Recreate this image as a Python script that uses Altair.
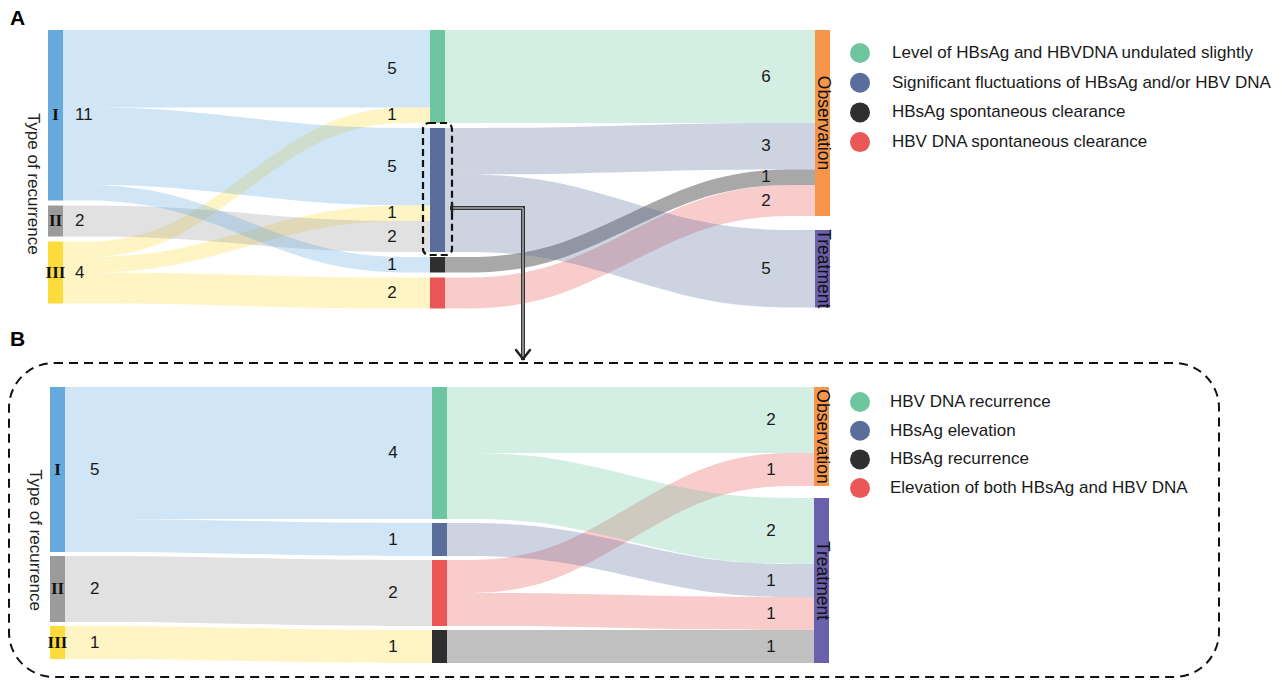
import altair as alt
import pandas as pd

# ---------------- data ----------------
# Panel A
A_COLUMNS = [["I", "II", "III"],
             ["Level", "Fluct", "HBsAgClr", "DNAClr"],
             ["Observation", "Treatment"]]
A_SRC = ["I", "III", "I", "III", "II", "I", "III",
         "Level", "Fluct", "HBsAgClr", "DNAClr", "Fluct"]
A_TGT = ["Level", "Level", "Fluct", "Fluct", "Fluct", "HBsAgClr", "DNAClr",
         "Observation", "Observation", "Observation", "Observation", "Treatment"]
A_VAL = [5, 1, 5, 1, 2, 1, 2, 6, 3, 1, 2, 5]
A_LEGEND_KEYS = ["Level", "Fluct", "HBsAgClr", "DNAClr"]
A_LEGEND = ["Level of HBsAg and HBVDNA undulated slightly",
            "Significant fluctuations of HBsAg and/or HBV DNA",
            "HBsAg spontaneous clearance",
            "HBV DNA spontaneous clearance"]

# Panel B
B_COLUMNS = [["I", "II", "III"],
             ["DNArec", "HBsAgEl", "Both", "HBsAgRec"],
             ["Observation", "Treatment"]]
B_SRC = ["I", "I", "II", "III",
         "DNArec", "Both", "DNArec", "HBsAgEl", "Both", "HBsAgRec"]
B_TGT = ["DNArec", "HBsAgEl", "Both", "HBsAgRec",
         "Observation", "Observation", "Treatment", "Treatment", "Treatment", "Treatment"]
B_VAL = [4, 1, 2, 1, 2, 1, 2, 1, 1, 1]
B_LEGEND_KEYS = ["DNArec", "HBsAgEl", "HBsAgRec", "Both"]
B_LEGEND = ["HBV DNA recurrence",
            "HBsAg elevation",
            "HBsAg recurrence",
            "Elevation of both HBsAg and HBV DNA"]

NODE_COLOR = {
    "I": "#65a9dd", "II": "#9b9b9b", "III": "#fcdc3c",
    "Level": "#6ec6a1", "DNArec": "#6ec6a1",
    "Fluct": "#5b6e9b", "HBsAgEl": "#5b6e9b",
    "HBsAgClr": "#2f2f2f", "HBsAgRec": "#2f2f2f",
    "DNAClr": "#eb5757", "Both": "#eb5757",
    "Observation": "#f7964a", "Treatment": "#6b60ab",
}
LINK_OPACITY = {"HBsAgClr": 0.42}

# ---------------- layout ----------------
XS = alt.Scale(domain=[8, 1274], nice=False, zero=False)
YS = alt.Scale(domain=[8, 679], nice=False, zero=False, reverse=True)
NODE_W = 15
CURVE = 0.3   # spline control-point offset, as a share of the link length


def build(panel, columns, src, tgt, val, col_x, top, unit, gaps, label_dx, count_dx):
    inflow, outflow = {}, {}
    for s, t, v in zip(src, tgt, val):
        outflow[s] = outflow.get(s, 0) + v
        inflow[t] = inflow.get(t, 0) + v
    nodes = {}
    for ci, col in enumerate(columns):
        y = top
        for key in col:
            v = max(inflow.get(key, 0), outflow.get(key, 0))
            nodes[key] = dict(panel=panel, key=key, col=ci, x=col_x[ci], x2=col_x[ci] + NODE_W,
                              y=y, y2=y + v * unit, value=v, color=NODE_COLOR[key])
            y = y + v * unit + gaps[ci]
    s_off = {k: n["y"] for k, n in nodes.items()}
    t_off = {k: n["y"] for k, n in nodes.items()}
    pts, labels = [], []
    for i, (s, t, v) in enumerate(zip(src, tgt, val)):
        h = v * unit
        ys = s_off[s]; s_off[s] += h
        yt = t_off[t]; t_off[t] += h
        x0 = nodes[s]["x2"]; x1 = nodes[t]["x"]
        d = (x1 - x0) * CURVE
        lid = f"{panel}{i:02d}"
        op = LINK_OPACITY.get(s, 0.3) if panel == "A" else 0.3
        for xx, yy in [(x0, ys), (x0 + d, ys), (x1 - d, yt), (x1, yt)]:
            pts.append(dict(link=lid, x=xx, y=yy, y2=yy + h, color=NODE_COLOR[s], op=op))
        labels.append(dict(x=x1 - label_dx[nodes[t]["col"] - 1], y=yt + h / 2, text=str(v)))
    nd = pd.DataFrame(list(nodes.values()))
    left = nd[nd["col"] == 0]
    counts = pd.DataFrame(dict(x=left["x2"] + count_dx, y=(left["y"] + left["y2"]) / 2,
                               text=left["value"].astype(str)))
    roman = pd.DataFrame(dict(x=(left["x"] + left["x2"]) / 2, y=(left["y"] + left["y2"]) / 2,
                              text=left["key"]))
    right = nd[nd["col"] == 2]
    rlab = pd.DataFrame(dict(x=(right["x"] + right["x2"]) / 2, y=(right["y"] + right["y2"]) / 2,
                             text=right["key"]))
    axis_t = pd.DataFrame(dict(x=[left["x"].min() - 15],
                               y=[(left["y"].min() + left["y2"].max()) / 2 + 17],
                               text=["Type of recurrence"]))
    return nodes, nd, pd.DataFrame(pts), pd.DataFrame(labels), counts, roman, rlab, axis_t


A = build("A", A_COLUMNS, A_SRC, A_TGT, A_VAL, [48, 430, 815], 30, 15.5, [5, 5, 14], [38, 49], 12)
B = build("B", B_COLUMNS, B_SRC, B_TGT, B_VAL, [50, 432, 814], 387, 33, [4, 4, 12], [39, 43], 25)

nodes_df = pd.concat([A[1], B[1]])
links_df = pd.concat([A[2], B[2]])
link_lab = pd.concat([A[3], B[3]])
counts_df = pd.concat([A[4], B[4]])
roman_df = pd.concat([A[5], B[5]])
rlab_df = pd.concat([A[6], B[6]])
axis_df = pd.concat([A[7], B[7]])

leg_rows = []
for keys, texts, y0, dy, tx in [(A_LEGEND_KEYS, A_LEGEND, 53, 29.7, 892),
                                (B_LEGEND_KEYS, B_LEGEND, 402, 28.7, 890)]:
    for i, (k, t) in enumerate(zip(keys, texts)):
        leg_rows.append(dict(cx=860, tx=tx, y=y0 + i * dy, text=t, color=NODE_COLOR[k]))
leg_df = pd.DataFrame(leg_rows)

# annotations: panel letters, dashed frames, arrow
fl = A[0]["Fluct"]
box = pd.DataFrame([dict(x=fl["x"] - 7, x2=fl["x2"] + 7, y=fl["y"] - 5, y2=fl["y2"] + 3)])
frame = pd.DataFrame([dict(x=9, x2=1219, y=363, y2=677)])
letters = pd.DataFrame([dict(x=10, y=19, text="A"), dict(x=10, y=340, text="B")])
ax = fl["x2"] + 7
arrow_main = pd.DataFrame([dict(x=ax, x2=523, y=208, y2=208),
                           dict(x=523, x2=523, y=208, y2=358)])
arrow_head = pd.DataFrame([dict(x=516, x2=523, y=350, y2=359),
                           dict(x=530, x2=523, y=350, y2=359),
                           dict(x=ax, x2=ax, y=204, y2=212)])


def X(f="x"):
    return alt.X(f"{f}:Q", scale=XS, axis=None)


def Y(f="y"):
    return alt.Y(f"{f}:Q", scale=YS, axis=None, stack=None)


FONT = "Liberation Sans"

links = alt.Chart(links_df).mark_area(interpolate="basis").encode(
    x=X(), y=Y(), y2="y2:Q", detail="link:N",
    color=alt.Color("color:N", scale=None), opacity=alt.Opacity("op:Q", scale=None))

nodes = alt.Chart(nodes_df).mark_rect().encode(
    x=X(), x2="x2:Q", y=Y(), y2="y2:Q", color=alt.Color("color:N", scale=None))

link_text = alt.Chart(link_lab).mark_text(font=FONT, fontSize=17, color="#1a1a1a").encode(
    x=X(), y=Y(), text="text:N")
count_text = alt.Chart(counts_df).mark_text(font=FONT, fontSize=17, color="#1a1a1a", align="left").encode(
    x=X(), y=Y(), text="text:N")
roman_text = alt.Chart(roman_df).mark_text(font="Liberation Serif", fontSize=17, fontWeight="bold",
                                           color="#111").encode(x=X(), y=Y(), text="text:N")
right_text = alt.Chart(rlab_df).mark_text(font=FONT, fontSize=17.5, angle=90, color="#111").encode(
    x=X(), y=Y(), text="text:N")
axis_text = alt.Chart(axis_df).mark_text(font=FONT, fontSize=17, angle=90, color="#222").encode(
    x=X(), y=Y(), text="text:N")

leg_pts = alt.Chart(leg_df).mark_circle(size=400, opacity=1).encode(
    x=X("cx"), y=Y(), color=alt.Color("color:N", scale=None))
leg_txt = alt.Chart(leg_df).mark_text(font=FONT, fontSize=17, align="left", color="#1a1a1a").encode(
    x=X("tx"), y=Y(), text="text:N")

box_mark = alt.Chart(box).mark_rect(filled=False, stroke="#111", strokeWidth=2.2, strokeDash=[7, 4],
                                    cornerRadius=6).encode(x=X(), x2="x2:Q", y=Y(), y2="y2:Q")
frame_mark = alt.Chart(frame).mark_rect(filled=False, stroke="#111", strokeWidth=2, strokeDash=[9, 6],
                                        cornerRadius=45).encode(x=X(), x2="x2:Q", y=Y(), y2="y2:Q")
letter_mark = alt.Chart(letters).mark_text(font=FONT, fontSize=21, fontWeight="bold", align="left",
                                           color="#000").encode(x=X(), y=Y(), text="text:N")
arrow_dark = alt.Chart(arrow_main).mark_rule(color="#333", strokeWidth=4, strokeCap="square").encode(
    x=X(), x2="x2:Q", y=Y(), y2="y2:Q")
arrow_light = alt.Chart(arrow_main).mark_rule(color="#a8a8a8", strokeWidth=1.5).encode(
    x=X(), x2="x2:Q", y=Y(), y2="y2:Q")
arrow_tip = alt.Chart(arrow_head).mark_rule(color="#222", strokeWidth=2.5, strokeCap="round").encode(
    x=X(), x2="x2:Q", y=Y(), y2="y2:Q")

chart = alt.layer(
    links, nodes, link_text, count_text, roman_text, right_text, axis_text,
    leg_pts, leg_txt, box_mark, frame_mark, letter_mark, arrow_dark, arrow_light, arrow_tip
).properties(
    width=1266, height=671, padding=0, autosize="none"
).configure_view(stroke=None)

chart.save("out.html", embed_options={"renderer": "svg", "actions": False})
